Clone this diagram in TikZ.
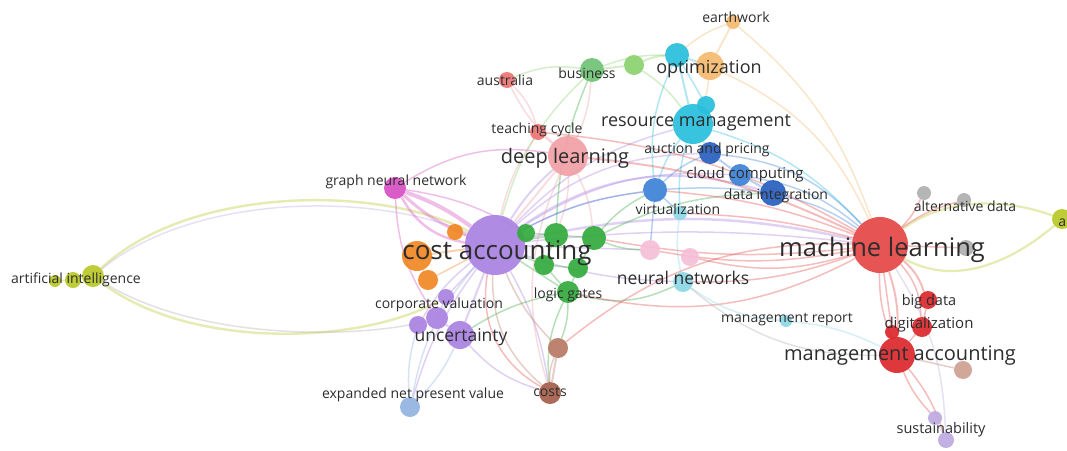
\documentclass[tikz,border=0pt]{standalone}
\usepackage{fontspec}
\setmainfont{Open Sans}
\pgfdeclarelayer{links}
\pgfsetlayers{links,main}

\definecolor{cRed}{RGB}{230,70,70}
\definecolor{cRedD}{RGB}{220,40,45}
\definecolor{cGreen}{RGB}{50,170,60}
\definecolor{cLGreen}{RGB}{140,210,110}
\definecolor{cBlue}{RGB}{60,130,215}
\definecolor{cDBlue}{RGB}{40,95,190}
\definecolor{cCyan}{RGB}{40,190,220}
\definecolor{cLCyan}{RGB}{140,215,230}
\definecolor{cYel}{RGB}{185,200,40}
\definecolor{cPurple}{RGB}{170,130,225}
\definecolor{cMag}{RGB}{215,80,195}
\definecolor{cOrange}{RGB}{240,135,35}
\definecolor{cLOrange}{RGB}{245,185,110}
\definecolor{cPink}{RGB}{240,160,165}
\definecolor{cLPink}{RGB}{245,190,215}
\definecolor{cBrown}{RGB}{185,120,100}
\definecolor{cDBrown}{RGB}{165,95,75}
\definecolor{cGray}{RGB}{175,175,175}
\definecolor{cLPurple}{RGB}{190,170,225}
\definecolor{cLBlue}{RGB}{145,180,225}
\definecolor{cTxt}{RGB}{45,45,45}

\tikzset{
  dot/.style 2 args={circle, inner sep=0pt, minimum size=#2pt, fill=#1, fill opacity=0.92},
  link/.style={draw=#1, line width=1.5pt, draw opacity=0.36},
  lbl/.style={text=cTxt, inner sep=0pt, font=\fontsize{#1}{#1}\selectfont},
}

\begin{document}
\begin{tikzpicture}[x=1pt,y=-1pt]
\useasboundingbox (0,0) rectangle (1067,450);

% ---------- keyword circles ----------
\node[dot={cYel}{12}] (ai1) at (55,281) {};
\node[dot={cYel}{16}] (ai2) at (73,280) {};
\node[dot={cYel}{22}] (ai3) at (93,276) {};
\node[dot={cYel}{20}] (ai4) at (1062,219) {};
\node[dot={cMag}{22}] (gnn) at (395,188) {};
\node[dot={cOrange}{30}] (or1) at (417,256) {};
\node[dot={cOrange}{20}] (or2) at (428,280) {};
\node[dot={cOrange}{16}] (or3) at (455,232) {};
\node[dot={cPurple}{60}] (ca) at (495,245) {};
\node[dot={cGreen}{18}] (g1) at (526,233) {};
\node[dot={cGreen}{24}] (g2) at (556,235) {};
\node[dot={cGreen}{24}] (g3) at (594,238) {};
\node[dot={cGreen}{20}] (g4) at (544,265) {};
\node[dot={cGreen}{20}] (g5) at (578,268) {};
\node[dot={cGreen}{22}] (g6) at (568,292) {};
\node[dot={cPurple}{16}] (cv) at (446,297) {};
\node[dot={cPurple}{18}] (u1) at (418,325) {};
\node[dot={cPurple}{22}] (u2) at (437,318) {};
\node[dot={cPurple}{28}] (u3) at (460,335) {};
\node[dot={cLBlue}{20}] (npv) at (410,407) {};
\node[dot={cBrown}{20}] (co1) at (558,348) {};
\node[dot={cDBrown}{22}] (co2) at (550,393) {};
\node[dot={cLPink}{20}] (nn1) at (650,250) {};
\node[dot={cLPink}{18}] (nn2) at (690,257) {};
\node[dot={cLCyan}{20}] (nn3) at (683,282) {};
\node[dot={cBlue}{24}] (vi1) at (655,190) {};
\node[dot={cLCyan}{14}] (vi2) at (680,213) {};
\node[dot={cDBlue}{26}] (di) at (773,193) {};
\node[dot={cBlue}{22}] (cc1) at (740,175) {};
\node[dot={cDBlue}{22}] (ap) at (710,153) {};
\node[dot={cCyan}{40}] (rm1) at (693,124) {};
\node[dot={cCyan}{18}] (rm2) at (706,105) {};
\node[dot={cCyan}{24}] (op1) at (677,55) {};
\node[dot={cLOrange}{28}] (op2) at (710,66) {};
\node[dot={cLOrange}{14}] (ew) at (733,22) {};
\node[dot={cGreen!70}{24}] (bu1) at (592,70) {};
\node[dot={cLGreen}{20}] (bu2) at (634,65) {};
\node[dot={cRed!75}{16}] (au) at (507,80) {};
\node[dot={cRed!75}{16}] (tc) at (538,132) {};
\node[dot={cPink}{40}] (dl) at (568,156) {};
\node[dot={cRed}{56}] (ml) at (880,245) {};
\node[dot={cGray}{14}] (ad1) at (924,193) {};
\node[dot={cGray}{14}] (ad2) at (964,200) {};
\node[dot={cGray}{16}] (ad3) at (966,248) {};
\node[dot={cRedD}{18}] (bd) at (928,300) {};
\node[dot={cRedD}{20}] (dg1) at (922,327) {};
\node[dot={cRedD}{14}] (dg2) at (892,332) {};
\node[dot={cRedD}{36}] (ma) at (897,355) {};
\node[dot={cBrown!70}{18}] (br) at (963,370) {};
\node[dot={cLCyan}{12}] (mr) at (786,321) {};
\node[dot={cLPurple}{14}] (su1) at (935,418) {};
\node[dot={cLPurple}{16}] (su2) at (946,440) {};

% ---------- co-occurrence links ----------
\begin{pgfonlayer}{links}
\fill[white] (0,0) rectangle (1067,450);
% artificial intelligence arcs
\draw[link=cYel, line width=2.4pt] (ai3) .. controls (190,185) and (380,185) .. (ca);
\draw[link=cLPurple] (ai3) .. controls (195,193) and (375,192) .. (ca);
\draw[link=cYel, line width=2.4pt] (ai3) .. controls (190,350) and (360,345) .. (cv);
\draw[link=cGray] (ai3) .. controls (200,343) and (365,338) .. (u2);
\draw[link=cYel] (ai1) -- (ai2);
\draw[link=cYel] (ai2) -- (ai3);
\draw[link=cYel, line width=2.2pt] (ml) .. controls (950,195) and (1010,200) .. (ai4);
\draw[link=cYel, line width=2.2pt] (ml) .. controls (960,290) and (1020,255) .. (ai4);
% graph neural network
\draw[link=cMag, line width=4pt] (gnn) to[bend left=8] (ca);
\draw[link=cMag, line width=3pt] (gnn) to[bend right=10] (ca);
\draw[link=cMag, line width=2.5pt] (gnn) to[bend right=25] (ca);
\draw[link=cMag] (gnn) to[bend left=10] (g1);
\draw[link=cMag] (gnn) to[bend right=15] (u2);
\draw[link=cMag] (gnn) to[bend left=20] (dl);
% cost accounting
\draw[link=cPurple, line width=2.5pt] (ca) to[bend left=12] (ml);
\draw[link=cPurple] (ca) to[bend left=6] (ml);
\draw[link=cPurple, line width=2pt] (ca) to[bend left=25] (di);
\draw[link=cPurple] (ca) to[bend left=18] (cc1);
\draw[link=cPurple] (ca) to[bend left=10] (vi1);
\draw[link=cPurple, line width=2pt] (ca) to[bend left=8] (dl);
\draw[link=cPurple] (ca) to[bend left=15] (rm1);
\draw[link=cPurple] (ca) to[bend left=20] (ap);
\draw[link=cPurple, line width=2pt] (ca) to (u3);
\draw[link=cPurple] (ca) to (cv);
\draw[link=cPurple] (ca) to[bend right=10] (u1);
\draw[link=cPurple] (ca) to[bend right=10] (npv);
\draw[link=cPurple] (ca) to[bend left=10] (co2);
\draw[link=cPurple] (ca) to (nn1);
\draw[link=cPurple] (ca) to[bend right=8] (nn3);
\draw[link=cOrange, line width=2pt] (or1) to (ca);
\draw[link=cOrange] (or2) to (ca);
\draw[link=cOrange] (or3) to (ca);
\draw[link=cOrange] (or1) -- (or2);
% green cluster
\draw[link=cGreen, line width=2pt] (g1) to (ca);
\draw[link=cGreen] (g2) to (ca);
\draw[link=cGreen] (g4) to (ca);
\draw[link=cGreen] (g6) to (ca);
\draw[link=cGreen] (g1) -- (g2);
\draw[link=cGreen] (g2) -- (g3);
\draw[link=cGreen] (g2) -- (g4);
\draw[link=cGreen] (g4) -- (g5);
\draw[link=cGreen] (g5) -- (g6);
\draw[link=cGreen] (g3) -- (g5);
\draw[link=cGreen] (g4) -- (g6);
\draw[link=cGreen] (g2) to[bend left=10] (bu1);
\draw[link=cGreen] (g3) to[bend right=10] (nn1);
\draw[link=cGreen] (g6) to[bend left=10] (co1);
\draw[link=cGreen] (g6) to[bend right=15] (co2);
\draw[link=cGreen] (g6) to[bend right=20] (nn3);
\draw[link=cGreen] (g3) to[bend left=10] (vi1);
\draw[link=cGreen] (g6) to[bend right=10] (u3);
\draw[link=cGreen] (g3) to[bend left=12] (di);
% costs
\draw[link=cBrown, line width=2pt] (co1) -- (co2);
\draw[link=cBrown] (co1) to[bend right=12] (co2);
\draw[link=cBrown] (co2) to[bend left=25] (ca);
\draw[link=cBrown] (co1) to[bend left=10] (ca);
\draw[link=cRed] (co2) to[bend left=35] (ca);
% deep learning
\draw[link=cPink, line width=2pt] (dl) to (ca);
\draw[link=cPink] (dl) to[bend left=10] (au);
\draw[link=cPink] (dl) -- (tc);
\draw[link=cPink] (dl) to[bend right=10] (bu1);
\draw[link=cPink] (dl) to[bend left=10] (g2);
\draw[link=cPink] (dl) to[bend left=10] (g3);
\draw[link=cPink] (dl) to[bend right=20] (co2);
\draw[link=cPink] (au) to[bend left=15] (tc);
\draw[link=cPink] (tc) to[bend right=10] (ca);
% business and optimization
\draw[link=cLGreen, line width=2pt] (bu1) -- (bu2);
\draw[link=cLGreen, line width=2pt] (bu2) to[bend left=10] (op1);
\draw[link=cLGreen] (bu1) to[bend left=10] (op1);
\draw[link=cLGreen] (bu1) to[bend right=15] (ca);
\draw[link=cLGreen] (bu2) to[bend left=10] (rm1);
\draw[link=cLGreen] (bu1) to[bend right=15] (au);
\draw[link=cCyan, line width=2pt] (op1) -- (op2);
\draw[link=cLOrange, line width=2pt] (op2) -- (ew);
\draw[link=cLOrange] (op1) to[bend left=10] (ew);
\draw[link=cLOrange] (op2) to[bend left=10] (rm1);
\draw[link=cLOrange] (op2) to[bend left=20] (ml);
\draw[link=cLOrange] (ew) to[bend left=15] (ml);
\draw[link=cCyan, line width=2pt] (op1) to (rm1);
\draw[link=cCyan] (rm2) -- (rm1);
\draw[link=cCyan] (rm2) -- (op1);
\draw[link=cCyan] (rm1) to[bend left=15] (ml);
\draw[link=cCyan] (rm1) -- (ap);
\draw[link=cCyan] (rm1) to[bend right=10] (vi1);
\draw[link=cCyan] (rm1) to[bend right=10] (vi2);
\draw[link=cCyan] (op1) to[bend right=15] (vi1);
% cloud and virtualization
\draw[link=cBlue, line width=2pt] (ap) -- (cc1);
\draw[link=cBlue, line width=2pt] (cc1) -- (di);
\draw[link=cBlue] (vi1) to[bend left=10] (ap);
\draw[link=cBlue] (vi1) to[bend left=5] (di);
\draw[link=cBlue] (vi1) -- (vi2);
\draw[link=cBlue] (di) to[bend left=10] (ml);
\draw[link=cBlue] (cc1) to[bend left=15] (ml);
\draw[link=cBlue] (ap) to[bend left=20] (ml);
\draw[link=cBlue] (vi1) to[bend right=10] (ca);
\draw[link=cBlue] (vi1) to (nn1);
\draw[link=cLCyan] (vi2) to[bend right=10] (nn3);
% machine learning
\draw[link=cRed, line width=2pt] (ml) to[bend right=10] (dl);
\draw[link=cRed] (ml) to[bend left=8] (g3);
\draw[link=cRed] (ml) to[bend left=15] (nn2);
\draw[link=cRed] (ml) to[bend left=10] (nn1);
\draw[link=cRed] (ml) to[bend left=20] (g6);
\draw[link=cRed] (ml) to[bend right=8] (vi1);
\draw[link=cRed] (ml) to[bend right=12] (tc);
\draw[link=cRed, line width=2pt] (ml) to[bend left=10] (ma);
\draw[link=cRed] (ml) to[bend right=10] (ma);
\draw[link=cRed, line width=2pt] (ml) to[bend left=15] (bd);
\draw[link=cRed] (ml) to[bend left=20] (dg1);
\draw[link=cRed] (ml) -- (dg2);
\draw[link=cRed] (ml) to[bend right=10] (ad1);
\draw[link=cRed] (ml) to[bend left=10] (ad2);
\draw[link=cRed] (ml) -- (ad3);
\draw[link=cRed] (ml) to[bend right=20] (co1);
\draw[link=cRed] (ml) to[bend left=10] (nn3);
\draw[link=cRed] (ml) to[bend right=6] (vi2);
% management accounting
\draw[link=cRed, line width=2pt] (ma) -- (dg2);
\draw[link=cRed] (ma) -- (dg1);
\draw[link=cRed] (bd) -- (dg1);
\draw[link=cRed] (ma) to[bend right=10] (su1);
\draw[link=cRed] (ma) to[bend left=10] (su2);
\draw[link=cBrown] (ma) -- (br);
\draw[link=cLCyan] (mr) to[bend left=10] (ma);
\draw[link=cLCyan] (mr) to[bend left=15] (nn3);
\draw[link=cGray] (ma) to[bend left=20] (nn3);
\draw[link=cLPurple] (su1) -- (su2);
\draw[link=cLPurple] (su2) to[bend right=15] (ml);
% uncertainty
\draw[link=cPurple, line width=2pt] (u1) -- (u2);
\draw[link=cPurple, line width=2pt] (u2) -- (u3);
\draw[link=cPurple] (cv) -- (u2);
\draw[link=cLBlue] (npv) to[bend left=10] (u1);
\draw[link=cLBlue] (npv) to[bend right=10] (u3);
\draw[link=cLBlue] (npv) to[bend left=15] (ca);
\draw[link=cPurple] (u3) to[bend right=15] (co2);
\end{pgfonlayer}

% ---------- labels ----------
\node[lbl=14] (t-ai) at (76,280) {artificial intelligence};
\node[lbl=14] (t-ai4) at (1064,221) {ai};
\node[lbl=14] (t-gnn) at (396,182) {graph neural network};
\node[lbl=26] (t-ca) at (497,253) {cost accounting};
\node[lbl=14] (t-cv) at (439,305) {corporate valuation};
\node[lbl=17.5] (t-u) at (461,337) {uncertainty};
\node[lbl=14] (t-npv) at (413,395) {expanded net present value};
\node[lbl=14] (t-co) at (550,392) {costs};
\node[lbl=14] (t-lg) at (568,295) {logic gates};
\node[lbl=17.5] (t-nn) at (683,278) {neural networks};
\node[lbl=14] (t-vi) at (678,209) {virtualization};
\node[lbl=14] (t-di) at (776,196) {data integration};
\node[lbl=15] (t-cc) at (745,175) {cloud computing};
\node[lbl=14] (t-ap) at (707,150) {auction and pricing};
\node[lbl=18] (t-rm) at (696,123) {resource management};
\node[lbl=18] (t-op) at (709,69) {optimization};
\node[lbl=14] (t-ew) at (736,17) {earthwork};
\node[lbl=14] (t-bu) at (587,73) {business};
\node[lbl=14] (t-au) at (505,80) {australia};
\node[lbl=14] (t-tc) at (537,130) {teaching cycle};
\node[lbl=20] (t-dl) at (565,158) {deep learning};
\node[lbl=25.5] (t-ml) at (882,250) {machine learning};
\node[lbl=14] (t-ad) at (965,206) {alternative data};
\node[lbl=14.5] (t-bd) at (929,302) {big data};
\node[lbl=15] (t-dg) at (929,325) {digitalization};
\node[lbl=20] (t-ma) at (900,356) {management accounting};
\node[lbl=14] (t-mr) at (787,320) {management report};
\node[lbl=14.5] (t-su) at (941,430) {sustainability};
\end{tikzpicture}
\end{document}
